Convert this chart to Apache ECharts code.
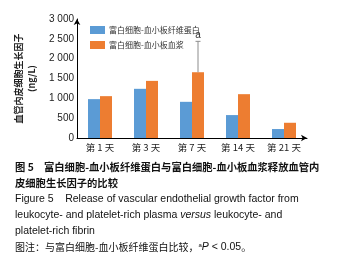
<!DOCTYPE html>
<html><head><meta charset="utf-8">
<script src="https://cdn.jsdelivr.net/npm/echarts@6/dist/echarts.min.js"></script>
<style>html,body{margin:0;padding:0;background:#fff}#c{width:345px;height:274px}</style>
</head><body><div id="c"></div>
<script>
const categories = ['第 1 天', '第 3 天', '第 7 天', '第 14 天', '第 21 天'];
const seriesNames = ['富白细胞-血小板纤维蛋白', '富白细胞-血小板血浆'];
const prfValues = [980, 1240, 912, 578, 226];
const prpValues = [1055, 1440, 1658, 1105, 384];
const prpErrorTop = [null, null, 2437, null, null];
const sigMarks = [null, null, 'a', null, null];
const yTicks = [0, 500, 1000, 1500, 2000, 2500, 3000];
const yName = '血管内皮细胞生长因子\n(ng/L)';

const errData = [];
prpErrorTop.forEach((v, i) => { if (v != null) errData.push([i, v, prpValues[i], sigMarks[i] || '']); });

const CJK = '"Noto Sans CJK SC", "Liberation Sans", Arial, sans-serif';
const LAT = '"Liberation Sans", Arial, "Noto Sans CJK SC", sans-serif';

const chart = echarts.init(document.getElementById('c'), null, {renderer: 'canvas'});
chart.setOption({
  animation: false,
  grid: {left: 77, right: 38, top: 19, bottom: 136, containLabel: false},
  legend: {
    orient: 'vertical', left: 85, top: 21, itemWidth: 15, itemHeight: 8, itemGap: 7,
    icon: 'rect', textStyle: {fontSize: 8, color: '#333', fontFamily: CJK, padding: [0, 0, 0, -1]},
    data: seriesNames
  },
  xAxis: {
    type: 'category', data: categories,
    axisLine: {show: true, lineStyle: {color: '#000', width: 1}, symbol: ['none', 'arrow'], symbolSize: [5, 6]},
    axisTick: {show: false},
    axisLabel: {fontSize: 9.5, color: '#222', margin: 5, fontFamily: CJK, interval: 0}
  },
  yAxis: {
    type: 'value', min: yTicks[0], max: yTicks[yTicks.length - 1], interval: yTicks[1] - yTicks[0],
    axisLine: {show: true, lineStyle: {color: '#000', width: 1}, symbol: ['none', 'arrow'], symbolSize: [5, 6]},
    axisTick: {show: false},
    splitLine: {show: false},
    axisLabel: {fontSize: 10, color: '#222', margin: 3, fontFamily: LAT, padding: [7, 0, 0, 0],
      formatter: v => v >= 1000 ? String(v).replace(/(\d)(\d{3})$/, '$1 $2') : String(v)},
    name: yName, nameLocation: 'middle', nameGap: 33, nameRotate: 90,
    nameTextStyle: {fontSize: 9, fontWeight: 'bold', color: '#222', lineHeight: 13, fontFamily: CJK}
  },
  series: [
    {name: seriesNames[0], type: 'bar', data: prfValues, barWidth: 12, barGap: '0%', itemStyle: {color: '#5B9BD5'}},
    {name: seriesNames[1], type: 'bar', data: prpValues, barWidth: 12, barGap: '0%', itemStyle: {color: '#ED7D31'}},
    {
      type: 'custom', data: errData, z: 5,
      renderItem: function (params, api) {
        const idx = api.value(0);
        const top = api.coord([idx, api.value(1)]);
        const base = api.coord([idx, api.value(2)]);
        const x = base[0] + 6;
        const mark = errData[params.dataIndex][3];
        return {type: 'group', children: [
          {type: 'line', shape: {x1: x, y1: base[1], x2: x, y2: top[1]}, style: {stroke: '#8c8c8c', lineWidth: 1}},
          {type: 'line', shape: {x1: x - 2.5, y1: top[1], x2: x + 2.5, y2: top[1]}, style: {stroke: '#8c8c8c', lineWidth: 1}},
          {type: 'text', style: {text: mark, x: x, y: top[1] - 1, textAlign: 'center', textVerticalAlign: 'bottom',
            font: '10px "Liberation Sans", Arial', fill: '#333'}}
        ]};
      }
    }
  ],
  graphic: [
    {type: 'text', left: 15, top: 162, style: {text: '图 5　富白细胞-血小板纤维蛋白与富白细胞-血小板血浆释放血管内',
      font: 'bold 10.3px ' + CJK, fill: '#111'}},
    {type: 'text', left: 15, top: 178, style: {text: '皮细胞生长因子的比较', font: 'bold 10.3px ' + CJK, fill: '#111'}},
    {type: 'text', left: 15, top: 194, style: {text: 'Figure 5    Release of vascular endothelial growth factor from',
      font: '10.5px ' + LAT, fill: '#111'}},
    {type: 'text', left: 15, top: 210, style: {
      text: '{n|leukocyte- and platelet-rich plasma }{i|versus}{n| leukocyte- and}',
      rich: {n: {font: '10.5px ' + LAT, fill: '#111'}, i: {font: 'italic 10.5px ' + LAT, fill: '#111'}}}},
    {type: 'text', left: 15, top: 226, style: {text: 'platelet-rich fibrin', font: '10.5px ' + LAT, fill: '#111'}},
    {type: 'text', left: 15, top: 242, style: {
      text: '{c|图注：与富白细胞-血小板纤维蛋白比较，}{s|a}{i|P}{n| < 0.05}{c|。}',
      rich: {
        c: {font: '10px ' + CJK, fill: '#111'},
        s: {font: '6px ' + LAT, fill: '#111', verticalAlign: 'top', padding: [0, 0, 5, 0]},
        i: {font: 'italic 10.5px ' + LAT, fill: '#111'},
        n: {font: '10.5px ' + LAT, fill: '#111'}
      }}}
  ]
});
</script></body></html>
